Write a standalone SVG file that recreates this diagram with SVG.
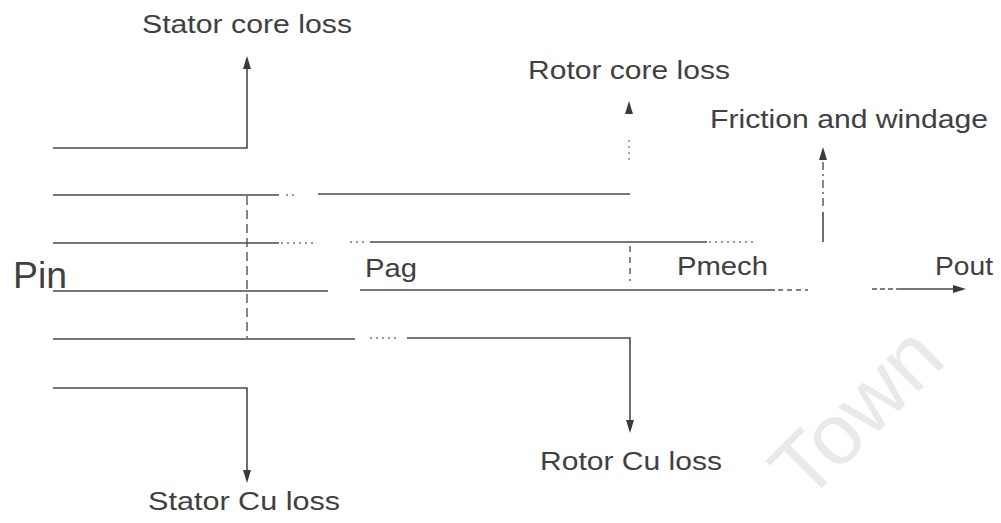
<svg xmlns="http://www.w3.org/2000/svg" width="1001" height="523" viewBox="0 0 1001 523">
<style>
.t{font-family:"Liberation Sans",Arial,sans-serif;font-size:25px;fill:#404040}
.l{stroke:#4a4a4a;stroke-width:1.6;fill:none}
.d{stroke:#555;stroke-width:1.4;fill:none;stroke-dasharray:9 5}
.dot{stroke:#777;stroke-width:1.3;fill:none;stroke-dasharray:2 4}
.ah{fill:#3a3a3a}
.wm{font-family:"Liberation Sans",Arial,sans-serif;font-size:86px;fill:#e9e9e9}
</style>
<defs>
<path id="up" d="M0,0 L-4,13 L4,13 Z"/>
<path id="down" d="M0,0 L-4,-13 L4,-13 Z"/>
<path id="right" d="M0,0 L-13,-4 L-13,4 Z"/>
</defs>
<g id="watermark">
<text class="wm" transform="translate(806,504) rotate(-45)">Town</text>
</g>
<g id="connectors">
<!-- stator core loss branch -->
<path class="l" d="M53,148 H247 V68"/>
<use href="#up" class="ah" x="247" y="56"/>
<!-- line 1 -->
<path class="l" d="M53,195 H279"/>
<path class="dot" d="M286,195 H296"/>
<path class="l" d="M318,194 H630"/>
<!-- rotor core loss branch -->
<path class="dot" d="M629,140 V162"/>
<use href="#up" class="ah" x="629" y="101"/>
<!-- line 2 -->
<path class="l" d="M53,243 H279"/>
<path class="dot" d="M281,243 H313"/>
<path class="dot" d="M350,242 H368"/>
<path class="l" d="M370,242 H707"/>
<path class="dot" d="M709,242 H757"/>
<!-- line 3 -->
<path class="l" d="M53,291 H328"/>
<path class="l" d="M360,290 H775"/>
<path class="d" d="M778,290 H808" style="stroke-dasharray:5 4"/>
<!-- line 4 -->
<path class="l" d="M53,339 H355"/>
<path class="dot" d="M370,338 H398"/>
<path class="l" d="M407,338 H630 V420"/>
<use href="#down" class="ah" x="630" y="433"/>
<!-- stator cu loss branch -->
<path class="l" d="M53,388 H247 V470"/>
<use href="#down" class="ah" x="247" y="483"/>
<!-- dashed verticals -->
<path class="d" d="M247,196 V338"/>
<path class="d" d="M630,246 V281" style="stroke-dasharray:6 5"/>
<!-- friction and windage -->
<path class="d" d="M823,162 V208" style="stroke-dasharray:8 4 2 4"/>
<path class="l" d="M823,212 V242"/>
<use href="#up" class="ah" x="823" y="147"/>
<!-- pout -->
<path class="d" d="M872,289 H900" style="stroke-dasharray:5 3"/>
<path class="l" d="M900,289 H954"/>
<use href="#right" class="ah" x="966" y="289"/>
</g>
<g id="stator-core-loss"><text class="t" x="142" y="33" textLength="210" lengthAdjust="spacingAndGlyphs">Stator core loss</text></g>
<g id="rotor-core-loss"><text class="t" x="528" y="79" textLength="202" lengthAdjust="spacingAndGlyphs">Rotor core loss</text></g>
<g id="friction"><text class="t" x="710" y="128" textLength="278" lengthAdjust="spacingAndGlyphs">Friction and windage</text></g>
<g id="pin"><text class="t" x="13" y="288" style="font-size:36px" textLength="54" lengthAdjust="spacingAndGlyphs">Pin</text></g>
<g id="pag"><text class="t" x="365" y="277" textLength="52" lengthAdjust="spacingAndGlyphs">Pag</text></g>
<g id="pmech"><text class="t" x="677" y="275" textLength="91" lengthAdjust="spacingAndGlyphs">Pmech</text></g>
<g id="pout"><text class="t" x="935" y="275" textLength="58" lengthAdjust="spacingAndGlyphs">Pout</text></g>
<g id="rotor-cu-loss"><text class="t" x="540" y="470" textLength="182" lengthAdjust="spacingAndGlyphs">Rotor Cu loss</text></g>
<g id="stator-cu-loss"><text class="t" x="148" y="510" textLength="192" lengthAdjust="spacingAndGlyphs">Stator Cu loss</text></g>
</svg>
